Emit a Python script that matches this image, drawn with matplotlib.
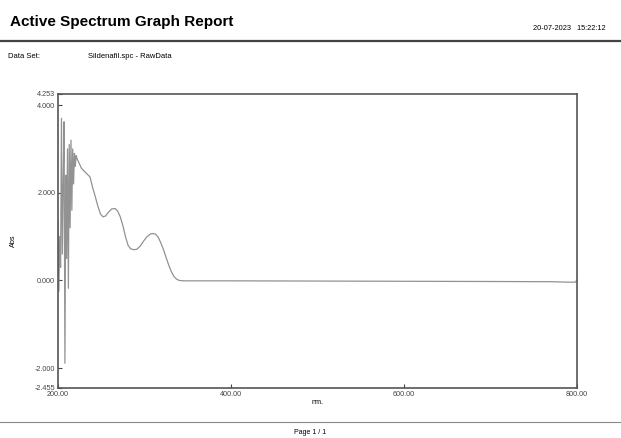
import matplotlib.pyplot as plt
from matplotlib.lines import Line2D

plt.rcParams['font.family'] = ['Liberation Sans', 'DejaVu Sans']

# Sildenafil.spc - RawData (nm, Abs)
wavelength = [200, 201, 202, 203, 204, 205, 206, 207, 208, 209, 210, 211,
              212, 213, 214, 215, 216, 217, 218, 219, 220, 221, 222, 225,
              227, 230, 234, 237, 240, 243, 246, 249, 252, 255, 258, 262,
              266, 269, 272, 275, 278, 281, 284, 288, 291, 295, 299, 303,
              307, 310, 313, 316, 319, 322, 325, 328, 331, 334, 337, 340,
              345, 400, 500, 600, 700, 770, 790, 798, 800]
absorbance = [1.35, -0.25, 1.00, 0.30, 3.70, 0.60, 2.20, 3.62, -1.89, 2.40,
              0.50, 3.00, -0.18, 3.10, 1.20, 3.20, 1.60, 3.00, 2.20, 2.90,
              2.60, 2.85, 2.78, 2.65, 2.56, 2.50, 2.42, 2.36, 2.12, 1.92,
              1.70, 1.52, 1.45, 1.47, 1.55, 1.63, 1.64, 1.58, 1.45, 1.25,
              1.00, 0.80, 0.72, 0.70, 0.71, 0.78, 0.90, 1.00, 1.06, 1.07,
              1.05, 0.98, 0.85, 0.70, 0.52, 0.35, 0.20, 0.09, 0.03, 0.00,
              -0.01, -0.01, -0.015, -0.02, -0.025, -0.03, -0.04, -0.04, 0.01]

x_ticks = [200, 400, 600, 800]
y_ticks = [-2.455, -2.0, 0.0, 2.0, 4.0, 4.253]

fig = plt.figure(figsize=(6.21, 4.38), dpi=100)
ax = fig.add_axes([58 / 621, 1 - 388 / 438, 519 / 621, 294 / 438])

ax.plot(wavelength, absorbance, color='#929292', linewidth=0.9)

ax.set_xlim(200, 800)
ax.set_ylim(-2.455, 4.253)
ax.set_xticks(x_ticks)
ax.set_xticklabels(['%.2f' % v for v in x_ticks])
ax.set_yticks(y_ticks)
ax.set_yticklabels(['%.3f' % v for v in y_ticks])
ax.tick_params(direction='in', length=3, width=0.8, colors='#444444',
               labelsize=5.2, pad=2)
for s in ax.spines.values():
    s.set_color('#555555')
    s.set_linewidth(1.2)

ax.set_xlabel('nm.', fontsize=5.2, labelpad=1)
ax.set_ylabel('Abs', fontsize=5.2, labelpad=13)

# page header
fig.text(10 / 621, 1 - 22 / 438, 'Active Spectrum Graph Report',
         fontsize=11, fontweight='bold', va='center', ha='left')
fig.text(606 / 621, 1 - 29 / 438, '20-07-2023   15:22:12',
         fontsize=5.3, va='center', ha='right')
fig.add_artist(Line2D([0, 1], [1 - 41 / 438] * 2, color='#444444', linewidth=1.6))
fig.text(8 / 621, 1 - 56 / 438, 'Data Set:', fontsize=5.5, va='center', ha='left')
fig.text(88 / 621, 1 - 56 / 438, 'Sildenafil.spc - RawData', fontsize=5.5,
         va='center', ha='left')

# page footer
fig.add_artist(Line2D([0, 1], [1 - 422 / 438] * 2, color='#888888', linewidth=0.8))
fig.text(310 / 621, 1 - 432 / 438, 'Page 1 / 1', fontsize=5.0, va='center', ha='center')

fig.savefig('out.png', dpi=100)
